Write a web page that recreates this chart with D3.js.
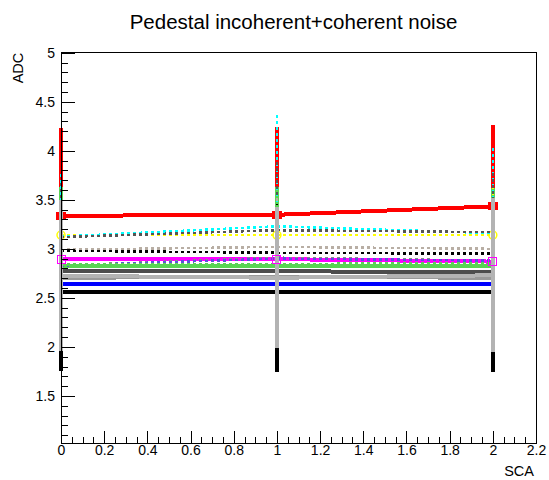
<!DOCTYPE html>
<html>
<head>
<meta charset="utf-8">
<script src="https://cdn.jsdelivr.net/npm/d3@7"></script>
<style>
    body { margin: 0; background: #fff; }
    text { font-family: "Liberation Sans", Arial, sans-serif; fill: #000; }
</style>
</head>
<body>
<div id="chart-area"></div>
<script>

// SCA points on the x axis
const scaPoints = [0, 1, 2];

// pedestal noise per channel (ADC)
const meanBlack = [2.558, 2.555, 2.555];
const errBlack = [0.80, 0.81, 0.81];
const meanRed = [3.337, 3.347, 3.433];
const errRed = [0.90, 0.90, 0.83];
const meanGreen = [2.830, 2.830, 2.820];
const errGreen = [0.80, 0.80, 0.80];
const meanBlue = [2.640, 2.640, 2.640];
const errBlue = [0.60, 0.60, 0.60];
const meanMagenta = [2.895, 2.895, 2.870];
const errMagenta = [0.50, 0.50, 0.50];
const meanDarkGrey = [2.770, 2.770, 2.765];
const errDarkGrey = [0.60, 0.60, 0.60];
const meanMidGrey = [2.705, 2.715, 2.705];
const errMidGrey = [0.60, 0.60, 0.60];

const meanYellow = [3.140, 3.140, 3.140];
const errYellow = [0.56, 0.50, 0.50];
const meanCyan = [3.125, 3.230, 3.160];
const errCyan = [0.64, 1.13, 0.87];
const meanGreyDash = [3.120, 3.190, 3.170];
const errGreyDash = [0.55, 0.70, 0.60];
const meanBeige = [2.990, 3.020, 3.000];
const errBeige = [0.50, 0.50, 0.50];
const meanBlackDash = [2.980, 2.960, 2.950];
const errBlackDash = [0.50, 0.50, 0.50];
const meanSilverDash = [2.830, 2.910, 2.880];
const errSilverDash = [0.50, 0.50, 0.50];
const meanBlueDash = [2.830, 2.900, 2.880];
const errBlueDash = [0.50, 0.50, 0.50];
const meanGreenDash = [2.840, 2.845, 2.855];
const errGreenDash = [0.60, 0.60, 0.60];

const meanLightGrey = [2.725, 2.705, 2.730];
const errLightGrey = [0.77, 0.72, 0.785];

// axis ticks
const xMajorTicks = [0, 0.2, 0.4, 0.6, 0.8, 1, 1.2, 1.4, 1.6, 1.8, 2, 2.2];
const yMajorTicks = [1.5, 2, 2.5, 3, 3.5, 4, 4.5, 5];


class PedestalVis {

    constructor(_parentElement) {
        this.parentElement = _parentElement;

        // draw order matters, the big grey bars go on top
        this.graphs = [
            {mean: meanBlack, err: errBlack, color: "#000000", width: 4, dash: null},
            {mean: meanRed, err: errRed, color: "#ff0000", width: 4, dash: null, marker: "tick"},
            {mean: meanGreen, err: errGreen, color: "#59d454", width: 4, dash: null},
            {mean: meanBlue, err: errBlue, color: "#0000ff", width: 4, dash: null},
            {mean: meanMagenta, err: errMagenta, color: "#ff00ff", width: 4, dash: null},
            {mean: meanDarkGrey, err: errDarkGrey, color: "#4d4d4d", width: 4, dash: null},
            {mean: meanMidGrey, err: errMidGrey, color: "#999999", width: 4, dash: null},
            {mean: meanYellow, err: errYellow, color: "#ffff00", width: 2.5, dash: "3,3", marker: "circle"},
            {mean: meanCyan, err: errCyan, color: "#00ffff", width: 2.5, dash: "3,3"},
            {mean: meanGreyDash, err: errGreyDash, color: "#555555", width: 2.5, dash: "3,3"},
            {mean: meanBeige, err: errBeige, color: "#b8aea4", width: 2.5, dash: "3,3"},
            {mean: meanBlackDash, err: errBlackDash, color: "#000000", width: 2.5, dash: "3,3"},
            {mean: meanSilverDash, err: errSilverDash, color: "#888888", width: 2.5, dash: "3,3"},
            {mean: meanBlueDash, err: errBlueDash, color: "#5954d9", width: 2.5, dash: "3,3"},
            {mean: meanGreenDash, err: errGreenDash, color: "#59d454", width: 2.5, dash: "3,3"},
            {mean: meanLightGrey, err: errLightGrey, color: "#b3b3b3", width: 4, dash: null},
            {mean: meanMagenta, err: null, color: "#ff00ff", width: 0, dash: null, marker: "square"}
        ];

        this.initVis();
    }

    initVis() {
        let vis = this;

        vis.svgWidth = 549;
        vis.svgHeight = 480;
        vis.frame = {left: 61, right: 536, top: 52.7, bottom: 443};

        vis.svg = d3.select("#" + vis.parentElement).append("svg")
            .attr("width", vis.svgWidth)
            .attr("height", vis.svgHeight);

        vis.x = d3.scaleLinear().domain([0, 2.2]).range([vis.frame.left, vis.frame.right]);
        vis.y = d3.scaleLinear().domain([1.02, 5]).range([vis.frame.bottom, vis.frame.top]);

        // title + axis titles
        vis.svg.append("text")
            .attr("x", 293.5)
            .attr("y", 29)
            .attr("text-anchor", "middle")
            .style("font-size", "20.5px")
            .text("Pedestal incoherent+coherent noise");

        vis.svg.append("text")
            .attr("transform", `translate(23, ${vis.frame.top}) rotate(-90)`)
            .attr("text-anchor", "end")
            .style("font-size", "14.5px")
            .text("ADC");

        vis.svg.append("text")
            .attr("x", vis.frame.right - 2)
            .attr("y", 476)
            .attr("text-anchor", "end")
            .style("font-size", "14.5px")
            .text("SCA");

        vis.plotArea = vis.svg.append("g").attr("class", "graphs");

        vis.drawAxes();
        vis.updateVis();
    }

    drawAxes() {
        let vis = this;
        let fmt = d3.format("~g");

        let xMinor = d3.range(0, 2.2001, 0.05).map(d => Math.round(d * 100) / 100)
            .filter(d => !xMajorTicks.includes(d));
        let yMinor = d3.range(1.1, 5.0001, 0.1).map(d => Math.round(d * 10) / 10)
            .filter(d => !yMajorTicks.includes(d));

        let axes = vis.svg.append("g").attr("class", "axes");

        axes.append("g")
            .attr("transform", `translate(0, ${vis.frame.bottom})`)
            .call(d3.axisBottom(vis.x).tickValues(xMajorTicks).tickFormat(fmt)
                .tickSizeInner(-12).tickSizeOuter(0).tickPadding(2));
        axes.append("g")
            .attr("transform", `translate(0, ${vis.frame.bottom})`)
            .call(d3.axisBottom(vis.x).tickValues(xMinor).tickFormat("")
                .tickSizeInner(-6).tickSizeOuter(0));

        axes.append("g")
            .attr("transform", `translate(${vis.frame.left}, 0)`)
            .call(d3.axisLeft(vis.y).tickValues(yMajorTicks).tickFormat(fmt)
                .tickSizeInner(-14).tickSizeOuter(0).tickPadding(6));
        axes.append("g")
            .attr("transform", `translate(${vis.frame.left}, 0)`)
            .call(d3.axisLeft(vis.y).tickValues(yMinor).tickFormat("")
                .tickSizeInner(-7).tickSizeOuter(0));

        axes.selectAll(".domain").remove();
        axes.selectAll("line").attr("stroke", "#000").attr("shape-rendering", "crispEdges");
        axes.selectAll("text")
            .style("font-size", "14px")
            .style("font-family", "'Liberation Sans', Arial, sans-serif");

        axes.append("rect")
            .attr("x", vis.frame.left)
            .attr("y", vis.frame.top)
            .attr("width", vis.frame.right - vis.frame.left)
            .attr("height", vis.frame.bottom - vis.frame.top)
            .attr("fill", "none")
            .attr("stroke", "#000")
            .attr("stroke-width", 1)
            .attr("shape-rendering", "crispEdges");
    }

    updateVis() {
        let vis = this;

        let line = d3.line()
            .x((d, i) => vis.x(scaPoints[i]))
            .y(d => vis.y(d));

        vis.graphs.forEach(g => {
            let grp = vis.plotArea.append("g");

            if (g.width > 0) {
                grp.append("path")
                    .datum(g.mean)
                    .attr("d", line)
                    .attr("fill", "none")
                    .attr("stroke", g.color)
                    .attr("stroke-width", g.width)
                    .attr("stroke-dasharray", g.dash)
                    .attr("shape-rendering", "crispEdges");
            }

            if (g.err) {
                grp.selectAll(".err")
                    .data(g.mean)
                    .enter().append("line")
                    .attr("class", "err")
                    .attr("x1", (d, i) => vis.x(scaPoints[i]))
                    .attr("x2", (d, i) => vis.x(scaPoints[i]))
                    .attr("y1", (d, i) => vis.y(d + g.err[i]))
                    .attr("y2", (d, i) => vis.y(d - g.err[i]))
                    .attr("stroke", g.color)
                    .attr("stroke-width", g.width)
                    .attr("stroke-dasharray", g.dash)
                    .attr("shape-rendering", "crispEdges");
            }

            if (g.marker === "square") {
                grp.selectAll(".mk")
                    .data(g.mean)
                    .enter().append("rect")
                    .attr("x", (d, i) => vis.x(scaPoints[i]) - 4)
                    .attr("y", d => vis.y(d) - 4)
                    .attr("width", 8)
                    .attr("height", 8)
                    .attr("fill", "none")
                    .attr("stroke", g.color)
                    .attr("stroke-width", 1)
                    .attr("shape-rendering", "crispEdges");
            } else if (g.marker === "circle") {
                grp.selectAll(".mk")
                    .data(g.mean)
                    .enter().append("circle")
                    .attr("cx", (d, i) => vis.x(scaPoints[i]))
                    .attr("cy", d => vis.y(d))
                    .attr("r", 4)
                    .attr("fill", "none")
                    .attr("stroke", g.color)
                    .attr("stroke-width", 1.5);
            } else if (g.marker === "tick") {
                grp.selectAll(".mk")
                    .data(g.mean)
                    .enter().append("rect")
                    .attr("x", (d, i) => vis.x(scaPoints[i]) - 5)
                    .attr("y", d => vis.y(d) - 4)
                    .attr("width", 10)
                    .attr("height", 8)
                    .attr("fill", g.color)
                    .attr("shape-rendering", "crispEdges");
            }
        });
    }
}

new PedestalVis("chart-area");

</script>
</body>
</html>
